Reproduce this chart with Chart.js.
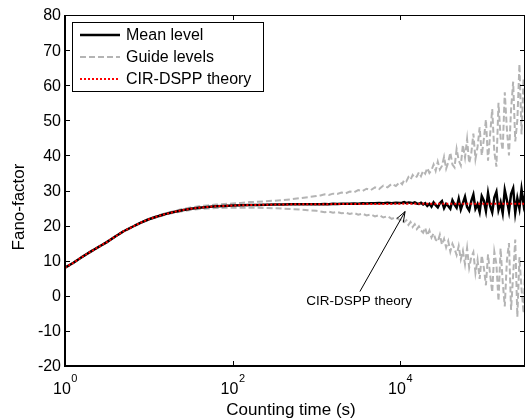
<!DOCTYPE html>
<html><head><meta charset="utf-8">
<script src="https://cdn.jsdelivr.net/npm/chart.js@4.4.1/dist/chart.umd.min.js"></script>
<style>html,body{margin:0;padding:0;background:#fff;} #wrap{width:527px;height:418px;position:relative;}</style>
</head><body><div id="wrap"><canvas id="c"></canvas></div>
<script>
// ---- data ----
const countingTime = [
 1, 1.26, 1.58, 2, 2.51, 3.16, 3.98, 5.01, 6.31, 7.94, 10, 12.6, 15.8, 20, 25.1, 31.6, 39.8, 50.1, 63.1, 79.4,
 100, 126, 158, 200, 251, 316, 398, 501, 631, 794, 1000,
 1122, 1259, 1413, 1585, 1778, 1995, 2239, 2512, 2818, 3162, 3548, 3981, 4467, 5012, 5623, 6310, 7079, 7943, 8913, 10000,
 10590, 11220, 11890, 12590, 13340, 14130, 14960, 15850, 16790, 17780, 18840, 19950, 21130, 22390, 23710, 25120, 26610, 28180, 29850, 31620,
 33500, 35480, 37580, 39810, 42170, 44670, 47320, 50120, 53090, 56230, 59570, 63100, 66830, 70790, 74990, 79430, 84140, 89130, 94410, 100000,
 105900, 112200, 118900, 125900, 133400, 141300, 149600, 158500, 167900, 177800, 188400, 199500, 211300, 223900, 237100, 251200, 266100, 281800, 298500, 316200
];
const meanLevel = [
 8.0, 9.4, 11.0, 12.5, 13.9, 15.3, 16.9, 18.4, 19.6, 20.8, 21.8, 22.6, 23.3, 23.9, 24.4, 24.8, 25.1, 25.3, 25.5, 25.6,
 25.7, 25.8, 25.85, 25.9, 25.95, 26.0, 26.0, 26.05, 26.05, 26.1, 26.1,
 26.1, 26.15, 26.1, 26.2, 26.15, 26.2, 26.25, 26.2, 26.3, 26.25, 26.35, 26.3, 26.4, 26.35, 26.45, 26.4, 26.5, 26.4, 26.5, 26.45,
 26.5, 26.7, 26.4, 26.6, 26.5, 26.4, 26.6, 26.3, 26.2, 26.5, 26.0, 26.4, 25.6, 26.2, 25.4, 26.6, 25.8, 25.2, 26.4, 27.0,
 25.0, 26.2, 25.6, 24.8, 27.2, 26.0, 25.1, 27.6, 24.6, 26.4, 28.2, 25.3, 24.3, 27.0, 28.8, 24.8, 26.1, 23.9, 28.4, 27.1,
 24.2, 29.2, 25.6, 23.8, 28.0, 29.6, 24.5, 26.6, 23.6, 30.1, 27.3, 24.1, 29.0, 30.6, 23.7, 27.8, 24.9, 30.3, 26.0, 29.5
];
const guideUpper = [
 8.1, 9.5, 11.1, 12.6, 14.0, 15.4, 17.0, 18.5, 19.7, 20.9, 21.9, 22.8, 23.5, 24.15, 24.7, 25.15, 25.5, 25.75, 26.0, 26.15,
 26.3, 26.45, 26.7, 26.8, 26.95, 27.1, 27.3, 27.5, 27.8, 28.1, 28.4,
 28.6, 28.9, 28.7, 29.1, 29.0, 29.4, 29.2, 29.7, 29.5, 30.1, 29.8, 30.5, 30.1, 30.9, 30.4, 31.4, 30.9, 31.9, 31.3, 32.4,
 31.8, 33.0, 32.6, 33.8, 33.1, 34.4, 33.6, 34.0, 35.2, 34.1, 35.6, 34.8, 36.4, 35.0, 35.8, 37.4, 35.6, 38.2, 36.0, 37.0,
 39.6, 36.2, 38.0, 40.8, 37.4, 36.6, 41.8, 38.6, 37.2, 43.0, 39.4, 44.6, 37.8, 40.6, 46.2, 39.0, 42.4, 48.0, 40.0, 44.6,
 50.2, 38.5, 46.0, 53.2, 41.0, 36.8, 55.0, 45.0, 41.5, 58.0, 47.5, 40.0, 53.0, 61.0, 44.0, 50.0, 66.0, 46.0, 62.0, 52.0
];
const guideLower = [
 7.9, 9.3, 10.9, 12.4, 13.8, 15.2, 16.8, 18.3, 19.5, 20.7, 21.7, 22.4, 23.1, 23.65, 24.1, 24.45, 24.7, 24.85, 25.0, 25.05,
 25.1, 25.1, 25.1, 25.05, 25.0, 24.95, 24.85, 24.7, 24.6, 24.4, 24.2,
 24.0, 23.8, 24.0, 23.7, 23.9, 23.5, 23.7, 23.3, 23.6, 23.1, 23.4, 22.9, 23.2, 22.6, 23.0, 22.3, 22.7, 21.9, 22.4, 21.5,
 22.0, 21.0, 21.5, 20.2, 21.0, 19.6, 20.4, 19.0, 19.8, 18.6, 18.0, 19.4, 17.2, 18.6, 16.6, 17.8, 16.0, 15.4, 17.4, 14.6,
 16.2, 13.8, 15.6, 12.6, 14.8, 13.4, 11.6, 14.2, 10.4, 12.8, 9.0, 13.6, 8.0, 11.0, 12.4, 6.5, 10.2, 4.8, 11.5, 8.0,
 3.0, 11.8, 6.0, 1.0, 12.5, 9.0, -1.5, 13.5, 4.0, -3.0, 10.0, 15.0, -4.0, 6.0, 16.0, -6.0, 11.0, 2.0, -5.0, 14.0
];
const theoryTime = [
 1, 1.26, 1.58, 2, 2.51, 3.16, 3.98, 5.01, 6.31, 7.94, 10, 12.6, 15.8, 20, 25.1, 31.6, 39.8, 50.1, 63.1, 79.4,
 100, 126, 158, 200, 251, 316, 398, 501, 631, 794, 1000, 3162, 10000, 31620, 100000, 316200
];
const theoryLevel = [
 8.0, 9.4, 11.0, 12.5, 13.9, 15.3, 16.9, 18.4, 19.6, 20.8, 21.8, 22.6, 23.3, 23.9, 24.4, 24.8, 25.1, 25.3, 25.5, 25.6,
 25.7, 25.8, 25.85, 25.9, 25.95, 26.0, 26.0, 26.05, 26.05, 26.1, 26.1, 26.15, 26.2, 26.2, 26.2, 26.2
];
const yTickValues = [-20, -10, 0, 10, 20, 30, 40, 50, 60, 70, 80];
const xTickValues = [1, 100, 10000];
const xTickBase = '10';
const xTickExponents = ['0', '2', '4'];
const seriesNames = ['Mean level', 'Guide levels', 'CIR-DSPP theory'];
const xTitle = 'Counting time (s)';
const yTitle = 'Fano-factor';
const noteText = 'CIR-DSPP theory';
const noteTip = [11480, 24.0];
const noteTail = [3310, 1.2];
const noteLabelAt = [3240, -1.5];

// ---- chart ----
const FONT = '"Liberation Sans", Arial, sans-serif';
const pts = (xs, ys) => xs.map((x, i) => ({ x: x, y: ys[i] }));

const decorations = {
  id: 'decorations',
  afterDatasetsDraw(chart) {
    const ctx = chart.ctx, a = chart.chartArea;
    const xs = chart.scales.x, ys = chart.scales.y;
    ctx.save();
    // frame
    ctx.strokeStyle = '#000';
    ctx.lineWidth = 1;
    ctx.beginPath();
    ctx.moveTo(a.left, a.top + 0.5); ctx.lineTo(a.right, a.top + 0.5);
    ctx.moveTo(a.right - 0.5, a.top); ctx.lineTo(a.right - 0.5, a.bottom);
    ctx.stroke();
    ctx.lineWidth = 2;
    ctx.beginPath();
    ctx.moveTo(a.left, a.top); ctx.lineTo(a.left, a.bottom);
    ctx.lineTo(a.right, a.bottom);
    ctx.stroke();
    // ticks
    ctx.lineWidth = 1;
    ctx.beginPath();
    yTickValues.forEach(v => {
      const y = Math.round(ys.getPixelForValue(v)) + 0.5;
      ctx.moveTo(a.left, y); ctx.lineTo(a.left + 5, y);
      ctx.moveTo(a.right, y); ctx.lineTo(a.right - 5, y);
    });
    xTickValues.forEach(v => {
      const x = Math.round(xs.getPixelForValue(v)) + 0.5;
      ctx.moveTo(x, a.bottom); ctx.lineTo(x, a.bottom - 5);
      ctx.moveTo(x, a.top); ctx.lineTo(x, a.top + 5);
    });
    ctx.stroke();
    // y tick labels
    ctx.fillStyle = '#000';
    ctx.font = '16px ' + FONT;
    ctx.textAlign = 'right';
    ctx.textBaseline = 'middle';
    yTickValues.forEach(v => ctx.fillText(String(v), a.left - 4, ys.getPixelForValue(v) + 1));
    // x tick labels with superscripts
    ctx.textBaseline = 'alphabetic';
    ctx.textAlign = 'left';
    xTickValues.forEach((v, i) => {
      const x = xs.getPixelForValue(v);
      ctx.font = '16px ' + FONT;
      const w1 = ctx.measureText(xTickBase).width;
      ctx.font = '11px ' + FONT;
      const w2 = ctx.measureText(xTickExponents[i]).width;
      const x0 = x - (w1 + w2) / 2;
      ctx.font = '16px ' + FONT;
      ctx.fillText(xTickBase, x0, a.bottom + 28);
      ctx.font = '11px ' + FONT;
      ctx.fillText(xTickExponents[i], x0 + w1 + 0.5, a.bottom + 16);
    });
    // axis titles
    ctx.font = '17px ' + FONT;
    ctx.textAlign = 'center';
    ctx.fillText(xTitle, (a.left + a.right) / 2 - 4, 415);
    ctx.save();
    ctx.translate(24, 207);
    ctx.rotate(-Math.PI / 2);
    ctx.textBaseline = 'alphabetic';
    ctx.fillText(yTitle, 0, 0);
    ctx.restore();
    // legend
    const ds = chart.data.datasets;
    const entries = [ds[1], ds[2], ds[0]];
    const lx = 72.5, ly = 22.5, lw = 191, lh = 69;
    ctx.fillStyle = '#fff';
    ctx.fillRect(lx, ly, lw, lh);
    ctx.strokeStyle = '#000';
    ctx.lineWidth = 1;
    ctx.setLineDash([]);
    ctx.strokeRect(lx, ly, lw, lh);
    ctx.font = '16px ' + FONT;
    ctx.textAlign = 'left';
    ctx.textBaseline = 'middle';
    entries.forEach((d, i) => {
      const y = 35 + i * 22;
      ctx.save();
      ctx.strokeStyle = d.borderColor;
      ctx.lineWidth = d.borderWidth;
      ctx.setLineDash(d.borderDash || []);
      ctx.beginPath();
      ctx.moveTo(80, y); ctx.lineTo(120, y);
      ctx.stroke();
      ctx.restore();
      ctx.fillStyle = '#000';
      ctx.fillText(seriesNames[i], 126, y + 1);
    });
    // annotation arrow
    const tx = xs.getPixelForValue(noteTip[0]), ty = ys.getPixelForValue(noteTip[1]);
    const sx = xs.getPixelForValue(noteTail[0]), sy = ys.getPixelForValue(noteTail[1]);
    ctx.strokeStyle = '#000';
    ctx.lineWidth = 1;
    ctx.beginPath();
    ctx.moveTo(sx, sy); ctx.lineTo(tx, ty);
    const ang = Math.atan2(ty - sy, tx - sx);
    ctx.moveTo(tx, ty);
    ctx.lineTo(tx - 11 * Math.cos(ang - 0.35), ty - 11 * Math.sin(ang - 0.35));
    ctx.moveTo(tx, ty);
    ctx.lineTo(tx - 11 * Math.cos(ang + 0.35), ty - 11 * Math.sin(ang + 0.35));
    ctx.stroke();
    ctx.fillStyle = '#000';
    ctx.font = '13.5px ' + FONT;
    ctx.textAlign = 'center';
    ctx.textBaseline = 'middle';
    ctx.fillText(noteText, xs.getPixelForValue(noteLabelAt[0]), ys.getPixelForValue(noteLabelAt[1]));
    ctx.restore();
  }
};

new Chart(document.getElementById('c'), {
  type: 'line',
  data: {
    datasets: [
      { label: seriesNames[2], data: pts(theoryTime, theoryLevel), borderColor: '#ff0000', borderWidth: 2, borderDash: [2, 2], pointRadius: 0, order: 0 },
      { label: seriesNames[0], data: pts(countingTime, meanLevel), borderColor: '#000000', borderWidth: 2.5, pointRadius: 0, order: 1 },
      { label: seriesNames[1], data: pts(countingTime, guideUpper), borderColor: '#b4b4b4', borderWidth: 2, borderDash: [6, 3], pointRadius: 0, order: 2 },
      { label: seriesNames[1] + ' ', data: pts(countingTime, guideLower), borderColor: '#b4b4b4', borderWidth: 2, borderDash: [6, 3], pointRadius: 0, order: 3 }
    ]
  },
  options: {
    responsive: true,
    maintainAspectRatio: false,
    animation: false,
    events: [],
    devicePixelRatio: 1,
    layout: { padding: { left: 65, right: 2, top: 15, bottom: 52 } },
    plugins: { legend: { display: false }, tooltip: { enabled: false } },
    scales: {
      x: { type: 'logarithmic', min: 1, max: 310000, display: false },
      y: { type: 'linear', min: -20, max: 80, display: false }
    }
  },
  plugins: [decorations]
});
</script>
</body></html>
